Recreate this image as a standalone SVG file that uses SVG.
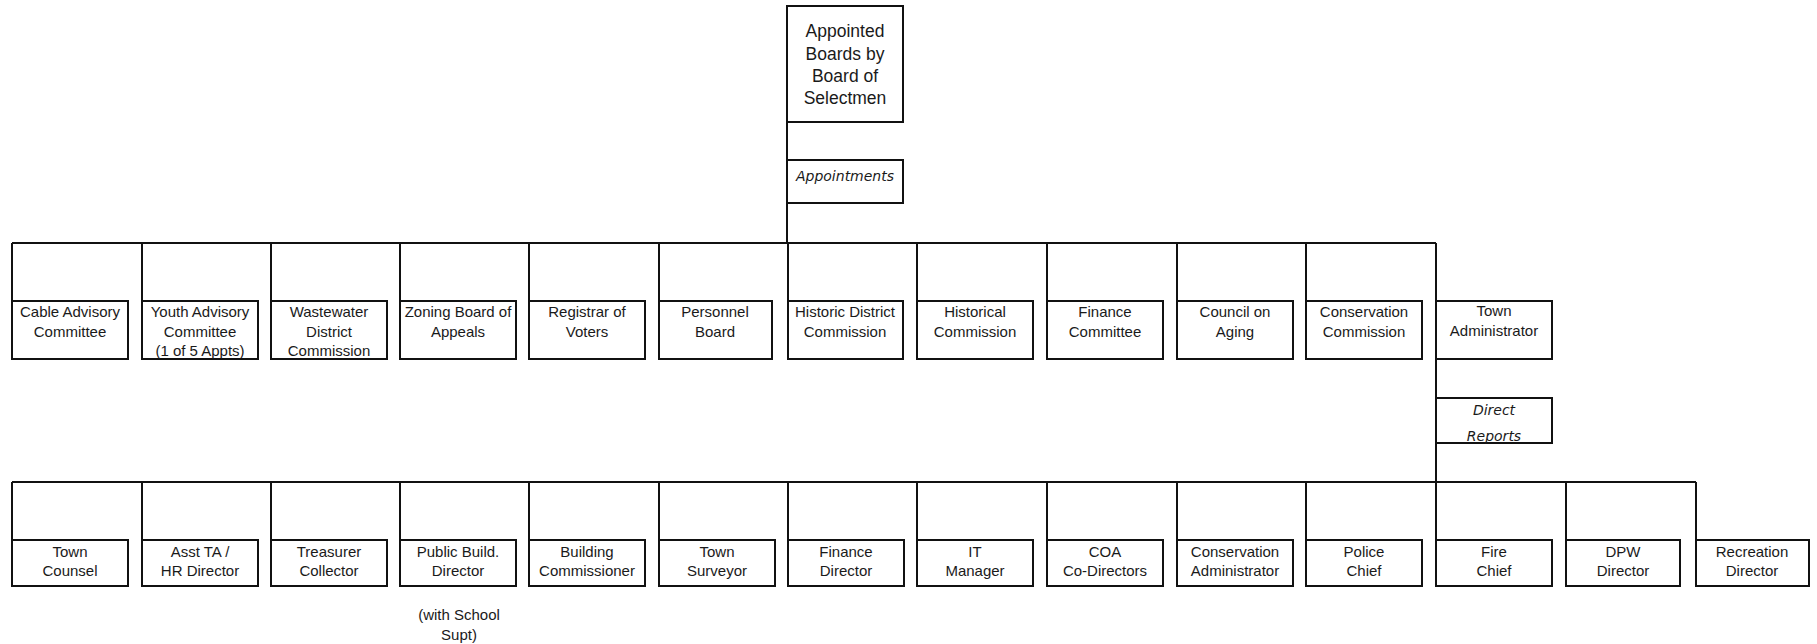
<svg xmlns="http://www.w3.org/2000/svg" width="1817" height="644" viewBox="0 0 1817 644">
<style>
.bg{fill:#fff}
.box{fill:#fff;stroke:#111;stroke-width:2}
.ln{stroke:#111;stroke-width:2;fill:none}
.t{font-family:"Liberation Sans",Arial,sans-serif;font-size:15px;fill:#1a1a1a;text-anchor:middle}
.tb{font-family:"Liberation Sans",Arial,sans-serif;font-size:17.5px;fill:#1a1a1a;text-anchor:middle}
.ti{font-family:"DejaVu Sans","Liberation Sans",sans-serif;font-style:italic;font-size:14px;fill:#1a1a1a;text-anchor:middle}
</style>
<rect class="bg" x="0" y="0" width="1817" height="644"/>
<g id="connectors">
<line class="ln" x1="787" y1="6" x2="787" y2="243"/>
<line class="ln" x1="12" y1="243" x2="1436" y2="243"/>
<line class="ln" x1="12" y1="243" x2="12" y2="301"/>
<line class="ln" x1="142" y1="243" x2="142" y2="301"/>
<line class="ln" x1="271" y1="243" x2="271" y2="301"/>
<line class="ln" x1="400" y1="243" x2="400" y2="301"/>
<line class="ln" x1="529" y1="243" x2="529" y2="301"/>
<line class="ln" x1="659" y1="243" x2="659" y2="301"/>
<line class="ln" x1="788" y1="243" x2="788" y2="301"/>
<line class="ln" x1="917" y1="243" x2="917" y2="301"/>
<line class="ln" x1="1047" y1="243" x2="1047" y2="301"/>
<line class="ln" x1="1177" y1="243" x2="1177" y2="301"/>
<line class="ln" x1="1306" y1="243" x2="1306" y2="301"/>
<line class="ln" x1="1436" y1="243" x2="1436" y2="540"/>
<line class="ln" x1="12" y1="482" x2="1696" y2="482"/>
<line class="ln" x1="12" y1="482" x2="12" y2="540"/>
<line class="ln" x1="142" y1="482" x2="142" y2="540"/>
<line class="ln" x1="271" y1="482" x2="271" y2="540"/>
<line class="ln" x1="400" y1="482" x2="400" y2="540"/>
<line class="ln" x1="529" y1="482" x2="529" y2="540"/>
<line class="ln" x1="659" y1="482" x2="659" y2="540"/>
<line class="ln" x1="788" y1="482" x2="788" y2="540"/>
<line class="ln" x1="917" y1="482" x2="917" y2="540"/>
<line class="ln" x1="1047" y1="482" x2="1047" y2="540"/>
<line class="ln" x1="1177" y1="482" x2="1177" y2="540"/>
<line class="ln" x1="1306" y1="482" x2="1306" y2="540"/>
<line class="ln" x1="1566" y1="482" x2="1566" y2="540"/>
<line class="ln" x1="1696" y1="482" x2="1696" y2="540"/>
</g>
<g id="appointed-boards">
<rect class="box" x="787" y="6" width="116" height="116"/>
<text class="tb" x="845" y="37">Appointed</text>
<text class="tb" x="845" y="59.5">Boards by</text>
<text class="tb" x="845" y="82">Board of</text>
<text class="tb" x="845" y="104">Selectmen</text>
</g>
<g id="appointments">
<rect class="box" x="787" y="160" width="116" height="43"/>
<text class="ti" x="845" y="181">Appointments</text>
</g>
<g id="cable-advisory">
<rect class="box" x="12" y="301" width="116" height="58"/>
<text class="t" x="70" y="317">Cable Advisory</text>
<text class="t" x="70" y="337">Committee</text>
</g>
<g id="youth-advisory">
<rect class="box" x="142" y="301" width="116" height="58"/>
<text class="t" x="200" y="317">Youth Advisory</text>
<text class="t" x="200" y="337">Committee</text>
<text class="t" x="200" y="356">(1 of 5 Appts)</text>
</g>
<g id="wastewater">
<rect class="box" x="271" y="301" width="116" height="58"/>
<text class="t" x="329" y="317">Wastewater</text>
<text class="t" x="329" y="337">District</text>
<text class="t" x="329" y="356">Commission</text>
</g>
<g id="zoning">
<rect class="box" x="400" y="301" width="116" height="58"/>
<text class="t" x="458" y="317">Zoning Board of</text>
<text class="t" x="458" y="337">Appeals</text>
</g>
<g id="registrar">
<rect class="box" x="529" y="301" width="116" height="58"/>
<text class="t" x="587" y="317">Registrar of</text>
<text class="t" x="587" y="337">Voters</text>
</g>
<g id="personnel">
<rect class="box" x="659" y="301" width="113" height="58"/>
<text class="t" x="715" y="317">Personnel</text>
<text class="t" x="715" y="337">Board</text>
</g>
<g id="historic-district">
<rect class="box" x="788" y="301" width="115" height="58"/>
<text class="t" x="845" y="317">Historic District</text>
<text class="t" x="845" y="337">Commission</text>
</g>
<g id="historical">
<rect class="box" x="917" y="301" width="116" height="58"/>
<text class="t" x="975" y="317">Historical</text>
<text class="t" x="975" y="337">Commission</text>
</g>
<g id="finance-committee">
<rect class="box" x="1047" y="301" width="116" height="58"/>
<text class="t" x="1105" y="317">Finance</text>
<text class="t" x="1105" y="337">Committee</text>
</g>
<g id="council-aging">
<rect class="box" x="1177" y="301" width="116" height="58"/>
<text class="t" x="1235" y="317">Council on</text>
<text class="t" x="1235" y="337">Aging</text>
</g>
<g id="conservation-commission">
<rect class="box" x="1306" y="301" width="116" height="58"/>
<text class="t" x="1364" y="317">Conservation</text>
<text class="t" x="1364" y="337">Commission</text>
</g>
<g id="town-administrator">
<rect class="box" x="1436" y="301" width="116" height="58"/>
<text class="t" x="1494" y="316">Town</text>
<text class="t" x="1494" y="336">Administrator</text>
</g>
<g id="direct-reports">
<rect class="box" x="1436" y="398" width="116" height="45"/>
<text class="ti" x="1494" y="415">Direct</text>
<text class="ti" x="1494" y="441">Reports</text>
</g>
<g id="town-counsel">
<rect class="box" x="12" y="540" width="116" height="46"/>
<text class="t" x="70" y="557">Town</text>
<text class="t" x="70" y="576">Counsel</text>
</g>
<g id="asst-ta">
<rect class="box" x="142" y="540" width="116" height="46"/>
<text class="t" x="200" y="557">Asst TA  /</text>
<text class="t" x="200" y="576">HR Director</text>
</g>
<g id="treasurer">
<rect class="box" x="271" y="540" width="116" height="46"/>
<text class="t" x="329" y="557">Treasurer</text>
<text class="t" x="329" y="576">Collector</text>
</g>
<g id="public-build">
<rect class="box" x="400" y="540" width="116" height="46"/>
<text class="t" x="458" y="557">Public Build.</text>
<text class="t" x="458" y="576">Director</text>
<text class="t" x="459" y="620">(with School</text>
<text class="t" x="459" y="640">Supt)</text>
</g>
<g id="building-commissioner">
<rect class="box" x="529" y="540" width="116" height="46"/>
<text class="t" x="587" y="557">Building</text>
<text class="t" x="587" y="576">Commissioner</text>
</g>
<g id="town-surveyor">
<rect class="box" x="659" y="540" width="116" height="46"/>
<text class="t" x="717" y="557">Town</text>
<text class="t" x="717" y="576">Surveyor</text>
</g>
<g id="finance-director">
<rect class="box" x="788" y="540" width="116" height="46"/>
<text class="t" x="846" y="557">Finance</text>
<text class="t" x="846" y="576">Director</text>
</g>
<g id="it-manager">
<rect class="box" x="917" y="540" width="116" height="46"/>
<text class="t" x="975" y="557">IT</text>
<text class="t" x="975" y="576">Manager</text>
</g>
<g id="coa-codirectors">
<rect class="box" x="1047" y="540" width="116" height="46"/>
<text class="t" x="1105" y="557">COA</text>
<text class="t" x="1105" y="576">Co-Directors</text>
</g>
<g id="conservation-administrator">
<rect class="box" x="1177" y="540" width="116" height="46"/>
<text class="t" x="1235" y="557">Conservation</text>
<text class="t" x="1235" y="576">Administrator</text>
</g>
<g id="police-chief">
<rect class="box" x="1306" y="540" width="116" height="46"/>
<text class="t" x="1364" y="557">Police</text>
<text class="t" x="1364" y="576">Chief</text>
</g>
<g id="fire-chief">
<rect class="box" x="1436" y="540" width="116" height="46"/>
<text class="t" x="1494" y="557">Fire</text>
<text class="t" x="1494" y="576">Chief</text>
</g>
<g id="dpw-director">
<rect class="box" x="1566" y="540" width="114" height="46"/>
<text class="t" x="1623" y="557">DPW</text>
<text class="t" x="1623" y="576">Director</text>
</g>
<g id="recreation-director">
<rect class="box" x="1696" y="540" width="113" height="46"/>
<text class="t" x="1752" y="557">Recreation</text>
<text class="t" x="1752" y="576">Director</text>
</g>
</svg>
